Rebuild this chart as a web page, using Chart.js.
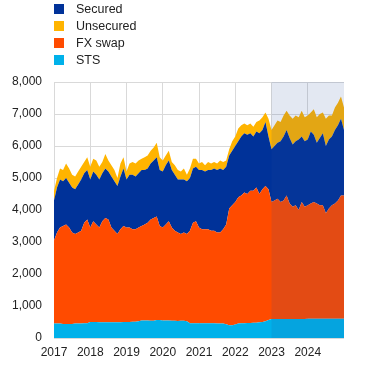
<!DOCTYPE html>
<html><head><meta charset="utf-8">
<script src="https://cdn.jsdelivr.net/npm/chart.js@4.4.1/dist/chart.umd.min.js"></script>
<style>html,body{margin:0;padding:0;background:#fff}#wrap{width:372px;height:390px;position:relative}</style>
</head><body><div id="wrap"><canvas id="c" width="372" height="390"></canvas></div>
<script>
// ---- data (monthly, Jan 2017 .. Jan 2025) ----
const years = [2017, 2018, 2019, 2020, 2021, 2022, 2023, 2024, 2025];
const highlightFromYear = 2023;
const yTicks = [0, 1000, 2000, 3000, 4000, 5000, 6000, 7000, 8000];

const sts = [
  450,450,450,440,440,440,440,450,450,450,460,460,
  500,500,500,490,490,490,490,490,490,490,490,500,
  500,500,510,510,520,550,550,550,540,540,560,560,
  550,550,550,540,540,530,540,540,520,460,460,460,
  460,460,460,460,460,460,450,450,450,430,400,400,
  420,450,460,460,470,470,480,480,490,500,520,560,
  590,590,590,590,590,590,590,590,590,590,590,590,
  600,600,600,600,600,600,600,600,600,600,600,600,600];
const fxSwap = [
  2600,2850,3000,3060,3110,3010,2860,2800,2850,2900,3140,3240,
  2950,3150,3050,2960,3160,3260,3210,2960,2860,2760,2910,3000,
  2950,2950,2890,2890,2930,2950,3000,3050,3160,3210,3240,2940,
  2900,3000,3100,2910,2810,2770,2710,2760,2730,2890,3140,3190,
  2990,2940,2940,2940,2890,2890,2850,2850,2950,3120,3650,3750,
  3830,3950,3990,4090,4030,4130,4120,4220,4010,4150,4230,4090,
  3660,3710,3760,3660,3710,3860,3610,3510,3560,3410,3660,3510,
  3550,3600,3650,3600,3550,3550,3300,3450,3550,3600,3700,3850,3850];
const secured = [
  1250,1400,1500,1400,1450,1400,1400,1400,1500,1600,1550,1550,
  1500,1550,1550,1500,1500,1550,1500,1600,1550,1500,1650,1800,
  1500,1650,1700,1650,1700,1750,1700,1700,1750,1800,1850,1750,
  1750,1850,1900,1800,1750,1650,1700,1650,1650,1650,1700,1700,
  1800,1850,1800,1850,1900,1950,1950,2000,1850,1800,1650,1700,
  1750,1750,1850,1850,1850,1800,1700,1750,1900,1850,2000,1650,
  1650,1700,1750,1900,2000,2050,2050,1950,2000,2200,2050,2050,
  2050,2250,2100,1900,2100,2250,2100,2150,2150,2300,2350,2400,2050];
const unsecured = [
  300,300,350,350,450,450,400,400,400,400,350,400,
  400,400,450,400,350,450,350,350,350,250,400,350,
  250,350,400,400,400,350,400,400,400,400,450,400,
  350,300,300,250,300,300,250,350,200,300,300,250,
  200,250,200,250,200,200,200,250,250,200,200,300,
  300,400,350,300,300,300,300,300,400,400,300,550,
  600,650,700,600,650,600,700,800,800,700,800,750,
  750,600,800,800,750,650,850,750,650,700,700,700,700];

const seriesNames = ['STS', 'FX swap', 'Secured', 'Unsecured'];
const legendOrder = ['Secured', 'Unsecured', 'FX swap', 'STS'];
const colors = {'STS':'#00B1EA','FX swap':'#FF4B00','Secured':'#003299','Unsecured':'#FFB400'};

// categories: one per month
const labels = [];
years.forEach(y => {
  for (let m = 1; m <= 12; m++) {
    if (y === years[years.length - 1] && m > 1) break;
    labels.push(y + '-' + String(m).padStart(2, '0'));
  }
});

const values = {'STS': sts, 'FX swap': fxSwap, 'Secured': secured, 'Unsecured': unsecured};
const FONT = '"Liberation Sans", Arial, sans-serif';

const shadePlugin = {
  id: 'shade',
  afterDatasetsDraw(chart) {
    const {ctx, chartArea, scales} = chart;
    const idx = labels.indexOf(highlightFromYear + '-01');
    const x0 = scales.x.getPixelForValue(idx);
    ctx.save();
    ctx.fillStyle = 'rgba(40,78,154,0.13)';
    ctx.fillRect(x0, chartArea.top, chartArea.right - x0, chartArea.bottom - chartArea.top);
    ctx.restore();
  }
};
const legendPlugin = {
  id: 'customLegend',
  afterDraw(chart) {
    const ctx = chart.ctx;
    ctx.save();
    ctx.font = '12.5px ' + FONT;
    ctx.textBaseline = 'middle';
    legendOrder.forEach((name, i) => {
      const ds = chart.data.datasets.find(d => d.label === name);
      const y = 9 + i * 17;
      ctx.fillStyle = ds.backgroundColor;
      ctx.fillRect(54, y - 5, 10, 10);
      ctx.fillStyle = '#222';
      ctx.fillText(name, 76, y + 0.5);
    });
    ctx.restore();
  }
};

new Chart(document.getElementById('c'), {
  type: 'line',
  data: {
    labels,
    datasets: seriesNames.map((name, i) => ({
      label: name,
      data: values[name],
      backgroundColor: colors[name],
      borderColor: colors[name],
      borderWidth: 0,
      pointRadius: 0,
      fill: i === 0 ? 'origin' : '-1',
      tension: 0
    }))
  },
  options: {
    responsive: false,
    animation: false,
    events: [],
    layout: {padding: {top: 82, right: 28, left: 0, bottom: 0}},
    plugins: {legend: {display: false}, tooltip: {enabled: false}},
    scales: {
      x: {
        stacked: true,
        offset: false,
        grid: {color: '#d9d9d9', drawTicks: false, lineWidth: 1},
        border: {display: false},
        ticks: {
          autoSkip: false, maxRotation: 0, padding: 7,
          color: '#222', font: {family: FONT, size: 12},
          callback: function(v, i) {
            const l = labels[i];
            if (l.endsWith('-01') && l.slice(0, 4) !== String(years[years.length - 1])) return l.slice(0, 4);
            return null;
          }
        },
        afterFit(s) { s.height = 52; }
      },
      y: {
        stacked: true,
        min: yTicks[0], max: yTicks[yTicks.length - 1],
        grid: {color: '#d9d9d9', drawTicks: false},
        border: {display: false},
        afterBuildTicks(s) { s.ticks = yTicks.map(v => ({value: v})); },
        ticks: {
          padding: 12, color: '#222', font: {family: FONT, size: 12},
          callback: v => v.toLocaleString('en-US')
        },
        afterFit(s) { s.width = 54; }
      }
    }
  },
  plugins: [shadePlugin, legendPlugin]
});
</script>
</body></html>
